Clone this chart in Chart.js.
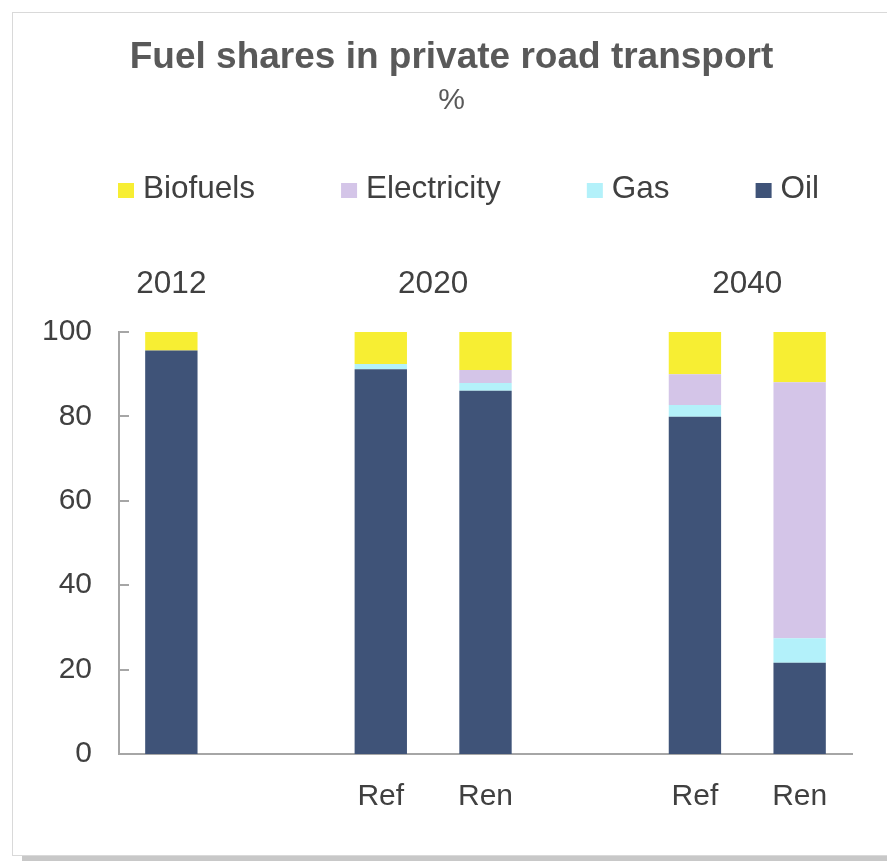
<!DOCTYPE html>
<html><head><meta charset="utf-8">
<script src="https://cdn.jsdelivr.net/npm/chart.js@4/dist/chart.umd.min.js"></script>
<style>
html,body{margin:0;padding:0;background:#fff;}
#wrap{position:relative;width:887px;height:861px;overflow:hidden;background:#fff;}
#frame{position:absolute;left:12px;top:12px;width:900px;height:842px;border:1.5px solid #d9d9d9;box-shadow:10px 5px 0 #c8c8c8;background:#fff;}
#c{position:absolute;left:0;top:0;}
</style></head>
<body>
<div id="wrap"><div id="frame"></div><canvas id="c" width="887" height="861"></canvas></div>
<script>
// ---- data ----
const categories = ['', '', 'Ref', 'Ren', '', 'Ref', 'Ren'];
const oil         = [95.6, null, 91.2, 86.1, null, 79.9, 21.6];
const gas         = [0,    null, 1.2,  1.8,  null, 2.8,  5.8];
const electricity = [0,    null, 0,    3.1,  null, 7.3,  60.7];
const biofuels    = [4.4,  null, 7.6,  9.0,  null, 10.0, 11.9];
const yearLabels = ['2012', '2020', '2040'];
const yearSpans  = [[0, 0], [2, 3], [5, 6]];
const seriesNames = ['Oil', 'Gas', 'Electricity', 'Biofuels'];

const FONT = '"Liberation Sans", Arial, Helvetica, sans-serif';
const TXT = '#404040';
const AXIS = '#a6a6a6';
Chart.defaults.font.family = FONT;

const legendPlugin = {
  id: 'customLegend',
  afterDraw(chart) {
    const ctx = chart.ctx;
    ctx.save();
    ctx.font = '31.5px ' + FONT;
    ctx.textBaseline = 'middle';
    ctx.textAlign = 'left';
    let x = 118; const y = 190.5;
    chart.data.datasets.slice().reverse().forEach(ds => {
      ctx.fillStyle = ds.backgroundColor;
      ctx.fillRect(x, y - 7.5, 16, 15);
      x += 25;
      ctx.fillStyle = TXT;
      ctx.fillText(ds.label, x, y - 1);
      x += ctx.measureText(ds.label).width + 86;
    });
    ctx.restore();
  }
};

const yearPlugin = {
  id: 'yearLabels',
  afterDraw(chart) {
    const ctx = chart.ctx, xs = chart.scales.x;
    ctx.save();
    ctx.font = '31.5px ' + FONT;
    ctx.fillStyle = TXT;
    ctx.textAlign = 'center';
    ctx.textBaseline = 'middle';
    yearLabels.forEach((lab, i) => {
      const [a, b] = yearSpans[i];
      const cx = (xs.getPixelForValue(a) + xs.getPixelForValue(b)) / 2;
      ctx.fillText(lab, cx, 284);
    });
    ctx.restore();
  }
};

const innerTicks = {
  id: 'innerTicks',
  afterDraw(chart) {
    const ctx = chart.ctx, ys = chart.scales.y, left = chart.chartArea.left;
    ctx.save();
    ctx.strokeStyle = AXIS;
    ctx.lineWidth = 2;
    ys.ticks.forEach(t => {
      const py = Math.round(ys.getPixelForValue(t.value));
      ctx.beginPath();
      ctx.moveTo(left, py);
      ctx.lineTo(left + 10, py);
      ctx.stroke();
    });
    ctx.restore();
  }
};

const colors = {Oil: '#3f5378', Gas: '#b3f1fa', Electricity: '#d4c5e8', Biofuels: '#f7ee33'};
const values = {Oil: oil, Gas: gas, Electricity: electricity, Biofuels: biofuels};

new Chart(document.getElementById('c'), {
  type: 'bar',
  data: {
    labels: categories,
    datasets: seriesNames.map(n => ({
      label: n,
      data: values[n],
      backgroundColor: colors[n],
      borderWidth: 0,
      categoryPercentage: 0.5,
      barPercentage: 1.0,
      skipNull: true
    }))
  },
  options: {
    responsive: false,
    animation: false,
    devicePixelRatio: 1,
    layout: {padding: {left: 36, right: 20, top: 0, bottom: 0}},
    plugins: {
      legend: {display: false},
      tooltip: {enabled: false},
      title: {
        display: true,
        text: 'Fuel shares in private road transport',
        color: '#595959',
        font: {size: 37, weight: 'bold', family: FONT},
        padding: {top: 36, bottom: 0}
      },
      subtitle: {
        display: true,
        text: '%',
        color: '#595959',
        font: {size: 30, family: FONT},
        padding: {top: 2, bottom: 213.6}
      }
    },
    scales: {
      x: {
        stacked: true,
        grid: {display: false, drawTicks: false},
        border: {display: true, color: AXIS, width: 2},
        ticks: {color: TXT, font: {size: 30}, padding: 25, maxRotation: 0, autoSkip: false},
        afterFit(s) { s.height = 107; }
      },
      y: {
        stacked: true,
        min: 0, max: 100,
        grid: {display: false, drawTicks: false},
        border: {display: true, color: AXIS, width: 2},
        ticks: {stepSize: 20, color: TXT, font: {size: 30}, padding: 27},
        afterFit(s) { s.width = 83; }
      },
      yRight: {
        position: 'right',
        display: true,
        grid: {display: false, drawTicks: false},
        border: {display: false},
        ticks: {display: false},
        afterFit(s) { s.width = 15; }
      }
    }
  },
  plugins: [legendPlugin, yearPlugin, innerTicks]
});
</script>
</body></html>
